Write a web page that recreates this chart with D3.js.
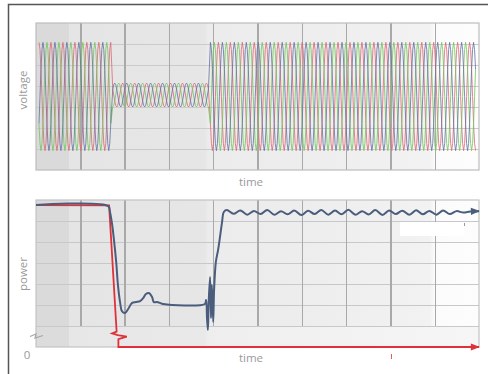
<!DOCTYPE html>
<html>
<head>
<meta charset="utf-8">
<script src="https://cdn.jsdelivr.net/npm/d3@7"></script>
<style>
  body { margin: 0; background: #fff; }
  svg { display: block; }
  .grid line { shape-rendering: crispEdges; }
  .lbl { font-family: "Open Sans", sans-serif; font-size: 11.5px; fill: #9a9a9a; }
</style>
</head>
<body>
<svg width="489" height="374"></svg>
<script>
// ---- data ----
// voltage: one sampled cycle, repeated per envelope segment (time units = grid columns)
const cycleShape = [0, 0.5, 0.866, 1, 0.866, 0.5, 0, -0.5, -0.866, -1, -0.866, -0.5];
const cyclePeriod = 0.27;
const phaseShift = [0, 4, 8];
const phaseColors = ["#dc6876", "#74c45c", "#6472a0"];
const envStart = [0.05, 1.72, 3.92];
const envEnd = [1.70, 3.90, 9.93];
const envAmp = [2.58, 0.57, 2.58];
const envOffset = [0, 0.07, 0];

// power (blue = measured, red = reference)
const powerT = [0, 1.63, 1.67, 1.72, 1.76, 1.81, 1.85, 1.9, 1.94, 2.01, 2.08, 2.17, 2.26, 2.35, 2.42, 2.48, 2.55, 2.62, 2.66, 2.73, 2.8, 2.87,
  3.81, 3.84, 3.86, 3.88, 3.9, 3.93, 3.95, 3.97, 4.0, 4.02, 4.06, 4.11, 4.15, 4.2, 4.24,
  4.31, 4.46, 4.61, 4.77, 4.92, 5.07, 5.22, 5.38, 5.53, 5.68, 5.83, 5.99, 6.14, 6.29, 6.44, 6.6, 6.75, 6.9, 7.05,
  7.21, 7.36, 7.51, 7.66, 7.82, 7.97, 8.12, 8.27, 8.43, 8.58, 8.73, 8.88, 9.04, 9.19, 9.34, 9.49, 9.65, 9.8, 10];
const powerV = [6.76, 6.71, 6.43, 5.81, 5.1, 4.05, 2.95, 2.1, 1.71, 1.62, 1.81, 2.1, 2.14, 2.19, 2.33, 2.52, 2.57, 2.38, 2.14, 2.14, 2.1, 2.05,
  2.05, 2.24, 1.38, 0.81, 2.24, 3.33, 1.38, 2.95, 1.19, 2.71, 4.05, 4.62, 5.19, 5.95, 6.43,
  6.52, 6.34, 6.5, 6.3, 6.48, 6.33, 6.52, 6.3, 6.47, 6.32, 6.5, 6.28, 6.49, 6.33, 6.52, 6.3, 6.5, 6.32, 6.53,
  6.3, 6.47, 6.31, 6.52, 6.29, 6.5, 6.33, 6.49, 6.3, 6.51, 6.32, 6.48, 6.3, 6.5, 6.33, 6.47, 6.4, 6.45, 6.47];
const refT = [0, 1.65, 1.82, 1.72, 1.845, 2.05, 1.86, 1.86, 10];
const refV = [6.76, 6.74, 0.73, 0.65, 0.57, 0.49, 0.37, 0, 0];

const gridCols = d3.range(1, 10);
const voltRows = [-2.5, -1.5, -0.5, 0.5, 1.5, 2.5];
const powerRows = [1, 2, 3, 4, 5, 6];

// ---- layout ----
const svg = d3.select("svg");
const x = d3.scaleLinear().domain([0, 10]).range([36, 479]);
const yV = d3.scaleLinear().domain([-3.5, 3.5]).range([170, 23]);
const yP = d3.scaleLinear().domain([0, 7]).range([347, 200]);

const defs = svg.append("defs");
const grad = defs.append("linearGradient").attr("id", "bg").attr("x1", 0).attr("x2", 1).attr("y1", 0).attr("y2", 0);
[[0, "#dadada"], [0.074, "#dadada"], [0.075, "#e5e5e5"], [0.38, "#e6e6e6"], [0.39, "#ececec"],
 [0.6, "#ededed"], [0.89, "#f2f2f2"], [0.9, "#fbfbfb"], [1, "#fdfdfd"]]
  .forEach(s => grad.append("stop").attr("offset", s[0]).attr("stop-color", s[1]));
const grad2 = defs.append("linearGradient").attr("id", "bg2").attr("x1", 0).attr("x2", 1).attr("y1", 0).attr("y2", 0);
[[0, "#dcdcdc"], [0.074, "#dcdcdc"], [0.075, "#e7e7e7"], [0.38, "#e9e9e9"], [0.39, "#eeeeee"], [1, "#f6f6f6"]]
  .forEach(s => grad2.append("stop").attr("offset", s[0]).attr("stop-color", s[1]));

function arrow(id, color) {
  defs.append("marker").attr("id", id).attr("markerUnits", "userSpaceOnUse")
    .attr("viewBox", "0 -5 10 10").attr("refX", 9).attr("refY", 0)
    .attr("markerWidth", 10).attr("markerHeight", 9).attr("orient", "auto")
    .append("path").attr("d", "M0,-4L10,0L0,4Z").attr("fill", color);
}
arrow("arrB", "#4b5d7c");
arrow("arrR", "#e0303a");

// outer frame
svg.append("path").attr("d", "M8.5,374V4.5H488").attr("fill", "none").attr("stroke", "#555").attr("stroke-width", 1.5);

// ---- voltage panel ----
const gTop = svg.append("g");
gTop.append("rect").attr("x", x(0)).attr("y", yV(3.5)).attr("width", x(10) - x(0)).attr("height", yV(-3.5) - yV(3.5))
  .attr("fill", "url(#bg)");

gTop.append("g").attr("class", "grid").attr("transform", `translate(${x(0)},0)`)
  .call(d3.axisLeft(yV).tickValues(voltRows).tickSize(-(x(10) - x(0))).tickFormat(""))
  .call(g => g.select(".domain").remove())
  .call(g => g.selectAll("line").attr("stroke", "#cbcbcb"));
gTop.append("g").attr("class", "grid").attr("transform", `translate(0,${yV(-3.5)})`)
  .call(d3.axisBottom(x).tickValues(gridCols).tickSize(-(yV(-3.5) - yV(3.5))).tickFormat(""))
  .call(g => g.select(".domain").remove())
  .call(g => g.selectAll("line").attr("stroke", "#a9a9a9").attr("stroke-width", 1.4));

const step = cyclePeriod / cycleShape.length;
phaseShift.forEach((shift, p) => {
  const pts = [];
  envStart.forEach((s, k) => {
    for (let i = Math.ceil(s / step); i * step <= envEnd[k]; i++) {
      pts.push([i * step, envOffset[k] + envAmp[k] * cycleShape[(i + shift) % cycleShape.length]]);
    }
  });
  gTop.append("path").datum(pts)
    .attr("fill", "none").attr("stroke", phaseColors[p]).attr("stroke-width", 1).attr("opacity", 0.8)
    .attr("d", d3.line().x(d => x(d[0])).y(d => yV(d[1])));
});

gTop.append("rect").attr("x", x(0)).attr("y", yV(3.5)).attr("width", x(10) - x(0)).attr("height", yV(-3.5) - yV(3.5))
  .attr("fill", "none").attr("stroke", "#bdbdbd").attr("stroke-width", 1.2);

gTop.append("text").attr("class", "lbl").attr("x", 251).attr("y", 186).attr("text-anchor", "middle").text("time");
gTop.append("text").attr("class", "lbl").attr("transform", "translate(27,90) rotate(-90)").attr("text-anchor", "middle").text("voltage");

// ---- power panel ----
const gBot = svg.append("g");
gBot.append("rect").attr("x", x(0)).attr("y", yP(7)).attr("width", x(10) - x(0)).attr("height", yP(1) - yP(7))
  .attr("fill", "url(#bg)");
gBot.append("rect").attr("x", x(0)).attr("y", yP(1)).attr("width", x(10) - x(0)).attr("height", yP(0) - yP(1))
  .attr("fill", "url(#bg2)");

gBot.append("g").attr("class", "grid").attr("transform", `translate(${x(0)},0)`)
  .call(d3.axisLeft(yP).tickValues(powerRows).tickSize(-(x(10) - x(0))).tickFormat(""))
  .call(g => g.select(".domain").remove())
  .call(g => g.selectAll("line").attr("stroke", "#c6c8cc"));
gBot.append("g").attr("class", "grid").attr("transform", `translate(0,${yP(1)})`)
  .call(d3.axisBottom(x).tickValues(gridCols).tickSize(-(yP(1) - yP(7))).tickFormat(""))
  .call(g => g.select(".domain").remove())
  .call(g => g.selectAll("line").attr("stroke", "#a9a9a9").attr("stroke-width", 1.4));

gBot.append("rect").attr("x", x(0)).attr("y", yP(7)).attr("width", x(10) - x(0)).attr("height", yP(0) - yP(7))
  .attr("fill", "none").attr("stroke", "#c4c4c4").attr("stroke-width", 1.2);

// stray white patch + marks seen in the original
gBot.append("rect").attr("x", 400).attr("y", 222).attr("width", 64).attr("height", 14).attr("fill", "#fff");
gBot.append("line").attr("x1", 464.5).attr("x2", 464.5).attr("y1", 223).attr("y2", 226).attr("stroke", "#999");
gBot.append("line").attr("x1", 391.5).attr("x2", 391.5).attr("y1", 354).attr("y2", 359).attr("stroke", "#e0303a").attr("stroke-width", 0.8);

const pLine = d3.line().x(d => x(d[0])).y(d => yP(d[1]));
gBot.append("path").datum(refT.map((t, i) => [t, refV[i]]))
  .attr("fill", "none").attr("stroke", "#e0303a").attr("stroke-width", 1.8)
  .attr("marker-end", "url(#arrR)").attr("d", pLine);
gBot.append("path").datum(powerT.map((t, i) => [t, powerV[i]]))
  .attr("fill", "none").attr("stroke", "#4b5d7c").attr("stroke-width", 2).attr("stroke-linejoin", "round")
  .attr("marker-end", "url(#arrB)").attr("d", pLine.curve(d3.curveCatmullRom.alpha(0.5)));

// axis break mark and zero label
gBot.append("path").attr("d", `M30,${yP(0.5)}L36,${yP(0.62)}L35,${yP(0.42)}L43,${yP(0.55)}`)
  .attr("fill", "none").attr("stroke", "#a8a8a8").attr("stroke-width", 1.2);
gBot.append("text").attr("class", "lbl").attr("x", 27).attr("y", 359).attr("text-anchor", "middle").text("0");

gBot.append("text").attr("class", "lbl").attr("x", 251).attr("y", 362).attr("text-anchor", "middle").text("time");
gBot.append("text").attr("class", "lbl").attr("transform", "translate(27,274) rotate(-90)").attr("text-anchor", "middle").text("power");
</script>
</body>
</html>
